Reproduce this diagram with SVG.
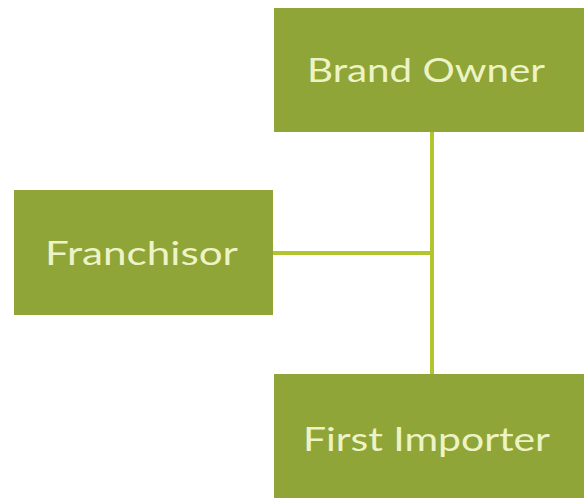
<svg xmlns="http://www.w3.org/2000/svg" width="584" height="498" viewBox="0 0 584 498">
<style>
.box{fill:#8fa537;}
.lbl{font-family:"Lato","Liberation Sans",sans-serif;font-size:33px;fill:#eef3c6;}
.conn{stroke:#b3c52e;stroke-width:4;fill:none;}
</style>
<rect width="584" height="498" fill="#ffffff"/>
<g id="connectors">
<line class="conn" x1="432" y1="132" x2="432" y2="374"/>
<line class="conn" x1="273" y1="253" x2="432" y2="253"/>
</g>
<g id="brand-owner">
<rect class="box" x="274" y="8" width="310" height="124"/>
<text class="lbl" x="307" y="82" textLength="238" lengthAdjust="spacingAndGlyphs">Brand Owner</text>
</g>
<g id="franchisor">
<rect class="box" x="14" y="190" width="259" height="125"/>
<text class="lbl" x="45" y="265" textLength="193" lengthAdjust="spacingAndGlyphs">Franchisor</text>
</g>
<g id="first-importer">
<rect class="box" x="274" y="374" width="310" height="124"/>
<text class="lbl" x="303" y="451" textLength="247" lengthAdjust="spacingAndGlyphs">First Importer</text>
</g>
</svg>
